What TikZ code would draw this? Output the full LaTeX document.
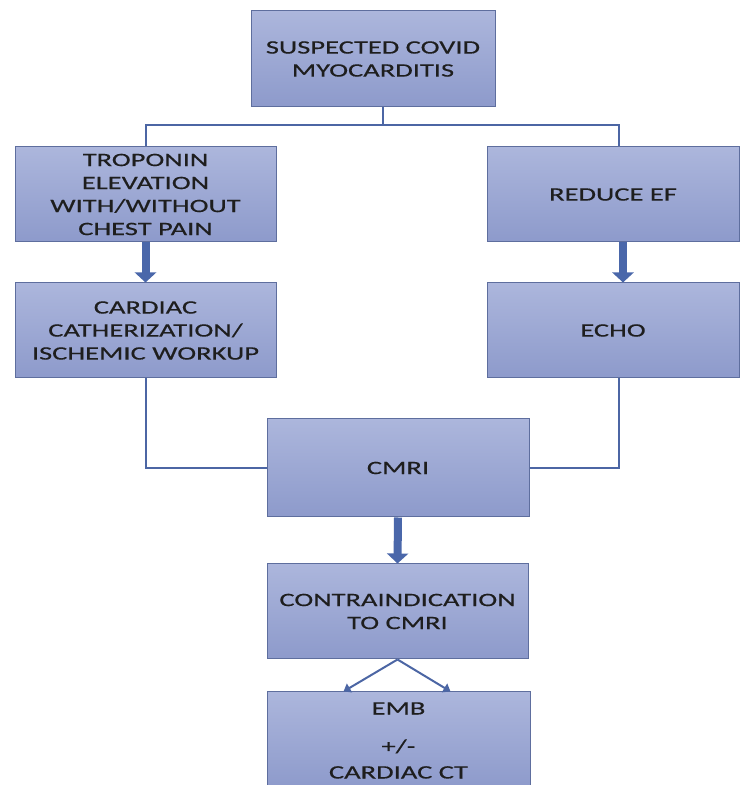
\documentclass[tikz,border=0pt]{standalone}
\usepackage{fontspec}
\setmainfont{Carlito}[FakeStretch=1.5,FakeBold=0.4]
\usetikzlibrary{arrows.meta,calc}
\definecolor{boxtop}{HTML}{ACB6DC}
\definecolor{boxbot}{HTML}{8D9ACB}
\definecolor{boxline}{HTML}{5E6E9E}
\definecolor{conn}{HTML}{4C66A4}
\definecolor{bigarr}{HTML}{4A67AA}
\definecolor{txt}{HTML}{1E1E1E}
\tikzset{
  flowbox/.style={draw=boxline, line width=1pt, top color=boxtop, bottom color=boxbot,
    align=center, font=\fontsize{19}{23}\selectfont, text=txt, inner sep=0pt},
  thinconn/.style={draw=conn, line width=2pt},
  bigarrow/.style={draw=bigarr, line width=8pt, -{Triangle[width=21pt,length=10pt]}},
  smallarrow/.style={draw=conn, line width=2pt, -{Triangle[width=10pt,length=7pt]}},
}
\begin{document}
\begin{tikzpicture}[x=1pt,y=1pt]
\useasboundingbox (0,0) rectangle (741,785);
\clip (0,0) rectangle (741,785);
% boxes (y = 785 - pixel y)
\node[flowbox, minimum width=244pt, minimum height=96pt] (top) at (373,726) {SUSPECTED COVID\\MYOCARDITIS};
\node[flowbox, minimum width=261pt, minimum height=95pt] (trop) at (145.5,590.5) {TROPONIN\\ELEVATION\\WITH/WITHOUT\\CHEST PAIN};
\node[flowbox, minimum width=261pt, minimum height=95pt] (card) at (145.5,454.5) {CARDIAC\\CATHERIZATION/\\ISCHEMIC WORKUP};
\node[flowbox, minimum width=252pt, minimum height=95pt] (ref) at (613,590.5) {REDUCE EF};
\node[flowbox, minimum width=252pt, minimum height=95pt] (echo) at (613,454.5) {ECHO};
\node[flowbox, minimum width=262pt, minimum height=98pt] (cmri) at (398,317) {CMRI};
\node[flowbox, minimum width=261pt, minimum height=95pt] (contra) at (397.5,173.5) {CONTRAINDICATION\\TO CMRI};
\node[flowbox, minimum width=263pt, minimum height=97pt] (emb) at (398.5,44.5) {EMB\\[15pt]+/-\\[3pt]CARDIAC CT};
% connectors
\coordinate (j) at (383,660);
\draw[thinconn] ([xshift=10pt]top.south) -- (j);
\draw[thinconn] (trop.north) |- (j) -| ([xshift=6pt]ref.north);
\draw[thinconn] (card.south) |- (cmri.west);
\draw[thinconn] ([xshift=6pt]echo.south) |- (cmri.east);
\draw[bigarrow] (trop.south) -- (card.north);
\draw[bigarrow] ([xshift=10pt]ref.south) -- ([xshift=10pt]echo.north);
\draw[bigarrow] (cmri.south) -- (contra.north);
\draw[smallarrow] (contra.south) -- ([xshift=-55pt]emb.north);
\draw[smallarrow] (contra.south) -- ([xshift=52pt]emb.north);
\end{tikzpicture}
\end{document}
